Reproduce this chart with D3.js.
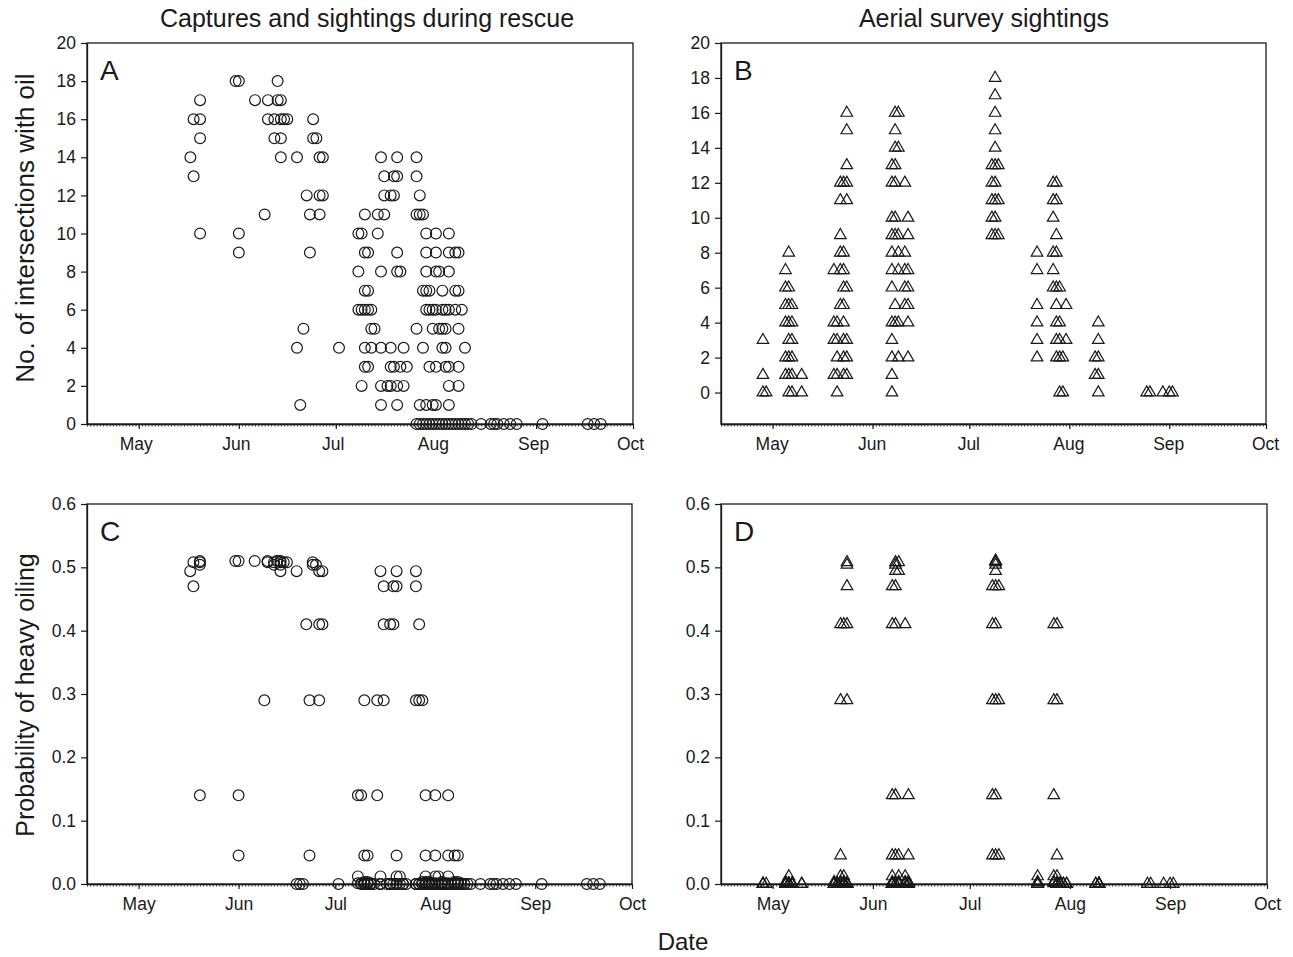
<!DOCTYPE html>
<html>
<head>
<meta charset="utf-8">
<script src="https://cdn.jsdelivr.net/npm/d3@7"></script>
<style>
  body { margin: 0; background: #fff; }
  svg { display: block; font-family: 'Liberation Sans', Arial, sans-serif; }
</style>
</head>
<body>
<svg width="1293" height="957"></svg>
<script>
// rescue captures / sightings: list i = dates (2010) with i intersections with oil
const rescueDates = [
  ['07-26','07-27','07-28','07-29','07-30','07-31','08-01','08-02','08-03','08-04','08-05','08-06','08-07','08-08','08-09','08-10','08-11','08-12','08-15','08-18','08-19','08-20','08-22','08-24','08-26','09-03','09-17','09-19','09-21'],
  ['06-20','07-15','07-20','07-27','07-29','07-31','08-01','08-05'],
  ['07-09','07-15','07-17','07-18','07-20','07-22','08-05','08-08'],
  ['07-10','07-11','07-18','07-19','07-21','07-23','07-30','08-01','08-04','08-05','08-08'],
  ['06-19','07-02','07-10','07-12','07-15','07-18','07-22','07-28','08-03','08-04','08-10'],
  ['06-21','07-12','07-13','07-26','07-31','08-02','08-03','08-04','08-08'],
  ['07-08','07-09','07-10','07-11','07-12','07-29','07-30','07-31','08-01','08-03','08-04','08-05','08-07','08-09'],
  ['07-10','07-11','07-28','07-29','07-30','08-03','08-07','08-08'],
  ['07-08','07-15','07-20','07-21','07-29','08-01','08-02','08-05'],
  ['06-01','06-23','07-10','07-11','07-20','07-29','08-01','08-05','08-07','08-08'],
  ['05-20','06-01','07-08','07-09','07-14','07-29','08-01','08-05'],
  ['06-09','06-23','06-26','07-10','07-14','07-16','07-26','07-27','07-28'],
  ['06-22','06-26','06-27','07-16','07-18','07-19','07-27'],
  ['05-18','07-16','07-19','07-20','07-26'],
  ['05-17','06-14','06-19','06-26','06-27','07-15','07-20','07-26'],
  ['05-20','06-12','06-14','06-24','06-25'],
  ['05-18','05-20','06-10','06-12','06-14','06-15','06-16','06-24'],
  ['05-20','06-06','06-10','06-13','06-14'],
  ['05-31','06-01','06-13']
];

// aerial survey sightings: list i = dates (2010) with i intersections with oil
const aerialDates = [
  ['04-28','04-29','05-06','05-07','05-10','05-21','06-07','07-29','07-30','08-10','08-25','08-26','08-30','09-01','09-02'],
  ['04-28','05-05','05-06','05-07','05-10','05-20','05-21','05-23','05-24','06-07','08-09','08-10'],
  ['05-05','05-06','05-07','05-21','05-23','05-24','06-07','06-09','06-12','07-22','07-28','07-29','07-30','08-09','08-10'],
  ['04-28','05-06','05-07','05-20','05-21','05-23','05-24','06-07','07-22','07-28','07-29','07-31','08-10'],
  ['05-05','05-06','05-07','05-20','05-21','05-23','06-07','06-08','06-09','06-12','07-22','07-28','07-29','08-10'],
  ['05-05','05-06','05-07','05-22','05-23','06-08','06-11','06-12','07-22','07-28','07-31'],
  ['05-05','05-06','05-23','05-24','06-07','06-11','06-12','07-27','07-28','07-29'],
  ['05-05','05-20','05-22','05-23','06-07','06-09','06-11','06-12','07-22','07-27'],
  ['05-06','05-22','05-23','06-07','06-09','06-11','07-22','07-27','07-28'],
  ['05-22','06-07','06-08','06-09','06-12','07-08','07-09','07-10','07-28'],
  ['06-07','06-08','06-12','07-08','07-09','07-27'],
  ['05-22','05-24','07-08','07-09','07-10','07-27','07-28'],
  ['05-22','05-23','05-24','06-07','06-08','06-11','07-08','07-09','07-27','07-28'],
  ['05-24','06-07','06-08','07-08','07-09','07-10'],
  ['06-08','06-09','07-09'],
  ['05-24','06-08','07-09'],
  ['05-24','06-08','06-09','07-09'],
  ['07-09'],
  ['07-09']
];

// probability of heavy oiling read for each number of intersections
const heavyOilProb = [0, 0, 0, 0, 0, 0, 0.001, 0.003, 0.012, 0.045, 0.14, 0.29, 0.41, 0.47, 0.494, 0.504, 0.508, 0.51, 0.51];

const countTicks = [0, 2, 4, 6, 8, 10, 12, 14, 16, 18, 20];
const probTicks = [0, 0.1, 0.2, 0.3, 0.4, 0.5, 0.6];
const monthTicks = ['2010-05-01', '2010-06-01', '2010-07-01', '2010-08-01', '2010-09-01', '2010-10-01'];
const dateRange = ['2010-04-15', '2010-10-01'];

const parse = d3.utcParse('%Y-%m-%d');
const font = "'Liberation Sans', Arial, sans-serif";
const ink = '#1a1a1a';

let toPoints = (lists) => {
    let pts = [];
    lists.forEach((dates, n) => {
        dates.forEach(d => pts.push({ date: parse('2010-' + d), n: n }));
    });
    return pts;
};

let rescuePts = toPoints(rescueDates);
let aerialPts = toPoints(aerialDates);

let panels = [
    { letter: 'A', pts: rescuePts, val: d => d.n, left: 87, right: 633, top: 43, bottom: 424,
      yDomain: [0, 20], ticks: countTicks, fmt: d3.format('d'), mark: 'circle', labelShift: -3 },
    { letter: 'B', pts: aerialPts, val: d => d.n, left: 721, right: 1266, top: 43, bottom: 424,
      yDomain: [-1.8, 20], ticks: countTicks, fmt: d3.format('d'), mark: 'triangle', labelShift: -1 },
    { letter: 'C', pts: rescuePts, val: d => heavyOilProb[d.n], left: 87, right: 632, top: 504, bottom: 884,
      yDomain: [0, 0.6], ticks: probTicks, fmt: d3.format('.1f'), mark: 'circle', labelShift: 0 },
    { letter: 'D', pts: aerialPts, val: d => heavyOilProb[d.n], left: 721, right: 1267, top: 504, bottom: 884,
      yDomain: [0, 0.6], ticks: probTicks, fmt: d3.format('.1f'), mark: 'triangle', labelShift: 0 }
];

let svg = d3.select('svg');

let circleSym = d3.symbol().type(d3.symbolCircle).size(Math.PI * 5.4 * 5.4);
let triSym = d3.symbol().type(d3.symbolTriangle).size(58);

panels.forEach(p => {
    let x = d3.scaleUtc()
        .domain(dateRange.map(parse))
        .range([p.left, p.right]);
    let y = d3.scaleLinear()
        .domain(p.yDomain)
        .range([p.bottom, p.top]);

    let g = svg.append('g').attr('class', 'panel-' + p.letter);

    // frame
    g.append('rect')
        .attr('x', p.left)
        .attr('y', p.top)
        .attr('width', p.right - p.left)
        .attr('height', p.bottom - p.top)
        .attr('fill', 'none')
        .attr('stroke', ink)
        .attr('stroke-width', 1.3);

    // y axis
    let yAxis = g.append('g')
        .attr('transform', 'translate(' + p.left + ',0)')
        .call(d3.axisLeft(y).tickValues(p.ticks).tickFormat(p.fmt).tickSize(6).tickPadding(5).tickSizeOuter(0));

    // minor day ticks
    let minor = g.append('g')
        .attr('transform', 'translate(0,' + p.bottom + ')')
        .call(d3.axisBottom(x).ticks(d3.utcDay.every(1)).tickFormat('').tickSize(2.5).tickSizeOuter(0));
    minor.select('.domain').remove();
    minor.selectAll('line').attr('stroke-width', 0.8);

    // month ticks
    let xAxis = g.append('g')
        .attr('transform', 'translate(0,' + p.bottom + ')')
        .call(d3.axisBottom(x).tickValues(monthTicks.map(parse)).tickFormat(d3.utcFormat('%b')).tickSize(5).tickPadding(9).tickSizeOuter(0));
    xAxis.selectAll('text').attr('dx', p.labelShift);

    [yAxis, xAxis].forEach(a => {
        a.attr('font-family', font).attr('font-size', 17.5);
        a.select('.domain').attr('stroke', ink).attr('stroke-width', 1.3);
        a.selectAll('line').attr('stroke', ink).attr('stroke-width', 1.2);
        a.selectAll('text').attr('fill', ink);
    });

    // panel letter
    g.append('text')
        .attr('x', p.left + 13)
        .attr('y', p.top + 37)
        .attr('font-family', font)
        .attr('font-size', 28)
        .attr('fill', ink)
        .text(p.letter);

    // points
    g.append('g')
        .selectAll('path')
        .data(p.pts)
        .enter()
        .append('path')
        .attr('d', p.mark === 'circle' ? circleSym : triSym)
        .attr('transform', d => 'translate(' + x(d.date) + ',' + y(p.val(d)) + ')')
        .attr('fill', 'none')
        .attr('stroke', ink)
        .attr('stroke-width', 1.2);
});

// titles
let addText = (txt, xPos, yPos, size, rotate) => {
    let t = svg.append('text')
        .attr('font-family', font)
        .attr('font-size', size)
        .attr('fill', ink)
        .attr('text-anchor', 'middle')
        .text(txt);
    if (rotate) {
        t.attr('transform', 'translate(' + xPos + ',' + yPos + ') rotate(-90)');
    } else {
        t.attr('x', xPos).attr('y', yPos);
    }
};

addText('Captures and sightings during rescue', 367, 27, 25);
addText('Aerial survey sightings', 984, 27, 25);
addText('No. of intersections with oil', 34, 228, 26, true);
addText('Probability of heavy oiling', 34, 695, 25, true);
addText('Date', 683, 950, 24);
</script>
</body>
</html>
